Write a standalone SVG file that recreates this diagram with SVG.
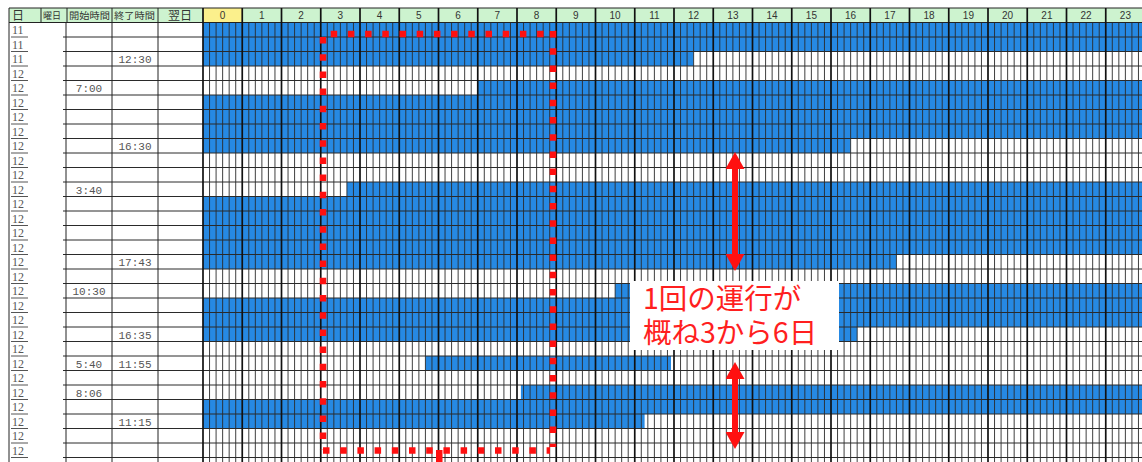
<svg xmlns="http://www.w3.org/2000/svg" xmlns:xlink="http://www.w3.org/1999/xlink" width="1142" height="462" viewBox="0 0 1142 462">
<style>
.hd{font-family:"Noto Sans CJK JP","Noto Sans",sans-serif;fill:#333}
.hr{font-family:"Liberation Sans",Arial,sans-serif;font-size:10px;fill:#333;text-anchor:middle}
.dn{font-family:"Liberation Serif",serif;font-size:12px;fill:#555}
.tm{font-family:"Liberation Mono",monospace;font-size:11px;fill:#555;text-anchor:middle}
.bar{fill:#2689e3}
.dot{fill:none;stroke:#ff1010;stroke-width:6.5;stroke-dasharray:6.5 10.7}
.note{font-family:"Noto Sans CJK JP","Noto Sans",sans-serif;font-size:28.5px;fill:#ff1f1f}
</style>
<defs>
<marker id="ah" viewBox="0 0 17 19" refX="2" refY="9.5" markerWidth="17" markerHeight="19" markerUnits="userSpaceOnUse" orient="auto-start-reverse">
<path d="M0,0 L17,9.5 L0,19 Z" fill="#ff1010"/>
</marker>
<path id="h6" fill="none" stroke="#2a2a2a" stroke-width="0.9" d="M6.5417,22.5v440M13.0833,22.5v440M19.625,22.5v440M26.1667,22.5v440M32.7083,22.5v440"/>
</defs>
<rect width="1142" height="462" fill="#fff"/>
<g id="header">
<rect x="9" y="8" width="1133" height="14.5" fill="#cdf3cf"/>
<rect x="203" y="8" width="39.25" height="14.5" fill="#fbf08c"/>
<text class="hd" x="12" y="19.5" font-size="12">日</text>
<text class="hd" x="43" y="19" font-size="9">曜日</text>
<text class="hd" x="69" y="19" font-size="9" textLength="41" lengthAdjust="spacingAndGlyphs">開始時間</text>
<text class="hd" x="114" y="19" font-size="9" textLength="41" lengthAdjust="spacingAndGlyphs">終了時間</text>
<text class="hd" x="180" y="19.5" font-size="12" text-anchor="middle">翌日</text>
<text class="hr" x="222.6" y="19">0</text>
<text class="hr" x="261.9" y="19">1</text>
<text class="hr" x="301.1" y="19">2</text>
<text class="hr" x="340.4" y="19">3</text>
<text class="hr" x="379.6" y="19">4</text>
<text class="hr" x="418.9" y="19">5</text>
<text class="hr" x="458.1" y="19">6</text>
<text class="hr" x="497.4" y="19">7</text>
<text class="hr" x="536.6" y="19">8</text>
<text class="hr" x="575.9" y="19">9</text>
<text class="hr" x="615.1" y="19">10</text>
<text class="hr" x="654.4" y="19">11</text>
<text class="hr" x="693.6" y="19">12</text>
<text class="hr" x="732.9" y="19">13</text>
<text class="hr" x="772.1" y="19">14</text>
<text class="hr" x="811.4" y="19">15</text>
<text class="hr" x="850.6" y="19">16</text>
<text class="hr" x="889.9" y="19">17</text>
<text class="hr" x="929.1" y="19">18</text>
<text class="hr" x="968.4" y="19">19</text>
<text class="hr" x="1007.6" y="19">20</text>
<text class="hr" x="1046.9" y="19">21</text>
<text class="hr" x="1086.1" y="19">22</text>
<text class="hr" x="1125.4" y="19">23</text>
</g>
<g id="bars">
<rect class="bar" x="203" y="22.5" width="939" height="29"/>
<rect class="bar" x="203" y="51.5" width="490.6" height="14.5"/>
<rect class="bar" x="477.75" y="80.5" width="664.25" height="14.5"/>
<rect class="bar" x="203" y="95" width="939" height="43.5"/>
<rect class="bar" x="203" y="138.5" width="647.6" height="14.5"/>
<rect class="bar" x="346.9" y="182" width="795.1" height="14.5"/>
<rect class="bar" x="203" y="196.5" width="939" height="58"/>
<rect class="bar" x="203" y="254.5" width="693.4" height="14.5"/>
<rect class="bar" x="615.1" y="283.5" width="526.9" height="14.5"/>
<rect class="bar" x="203" y="298" width="939" height="29"/>
<rect class="bar" x="203" y="327" width="654.2" height="14.5"/>
<rect class="bar" x="425.4" y="356" width="245.6" height="14.5"/>
<rect class="bar" x="520.9" y="385" width="621.1" height="14.5"/>
<rect class="bar" x="203" y="399.5" width="939" height="14.5"/>
<rect class="bar" x="203" y="414" width="441.6" height="14.5"/>
</g>
<g id="grid" fill="none">
<use xlink:href="#h6" href="#h6" x="203"/>
<use xlink:href="#h6" href="#h6" x="242.25"/>
<use xlink:href="#h6" href="#h6" x="281.5"/>
<use xlink:href="#h6" href="#h6" x="320.75"/>
<use xlink:href="#h6" href="#h6" x="360"/>
<use xlink:href="#h6" href="#h6" x="399.25"/>
<use xlink:href="#h6" href="#h6" x="438.5"/>
<use xlink:href="#h6" href="#h6" x="477.75"/>
<use xlink:href="#h6" href="#h6" x="517"/>
<use xlink:href="#h6" href="#h6" x="556.25"/>
<use xlink:href="#h6" href="#h6" x="595.5"/>
<use xlink:href="#h6" href="#h6" x="634.75"/>
<use xlink:href="#h6" href="#h6" x="674"/>
<use xlink:href="#h6" href="#h6" x="713.25"/>
<use xlink:href="#h6" href="#h6" x="752.5"/>
<use xlink:href="#h6" href="#h6" x="791.75"/>
<use xlink:href="#h6" href="#h6" x="831"/>
<use xlink:href="#h6" href="#h6" x="870.25"/>
<use xlink:href="#h6" href="#h6" x="909.5"/>
<use xlink:href="#h6" href="#h6" x="948.75"/>
<use xlink:href="#h6" href="#h6" x="988"/>
<use xlink:href="#h6" href="#h6" x="1027.25"/>
<use xlink:href="#h6" href="#h6" x="1066.5"/>
<use xlink:href="#h6" href="#h6" x="1105.75"/>
<path stroke="#2a2a2a" stroke-width="1" d="M63,37h1079m-1079,14.5h1079m-1079,14.5h1079m-1079,14.5h1079m-1079,14.5h1079m-1079,14.5h1079m-1079,14.5h1079m-1079,14.5h1079m-1079,14.5h1079m-1079,14.5h1079m-1079,14.5h1079m-1079,14.5h1079m-1079,14.5h1079m-1079,14.5h1079m-1079,14.5h1079m-1079,14.5h1079m-1079,14.5h1079m-1079,14.5h1079m-1079,14.5h1079m-1079,14.5h1079m-1079,14.5h1079m-1079,14.5h1079m-1079,14.5h1079m-1079,14.5h1079m-1079,14.5h1079m-1079,14.5h1079m-1079,14.5h1079m-1079,14.5h1079m-1079,14.5h1079m-1079,14.5h1079"/>
<path stroke="#555" stroke-width="1" d="M11,37h17m-17,14.5h17m-17,14.5h17m-17,14.5h17m-17,14.5h17m-17,14.5h17m-17,14.5h17m-17,14.5h17m-17,14.5h17m-17,14.5h17m-17,14.5h17m-17,14.5h17m-17,14.5h17m-17,14.5h17m-17,14.5h17m-17,14.5h17m-17,14.5h17m-17,14.5h17m-17,14.5h17m-17,14.5h17m-17,14.5h17m-17,14.5h17m-17,14.5h17m-17,14.5h17m-17,14.5h17m-17,14.5h17m-17,14.5h17m-17,14.5h17m-17,14.5h17m-17,14.5h17"/>
<path stroke="#222" stroke-width="1" d="M9,8H1142M9,22.5H1142M9,8V462M41,8v14.5M67,8v14.5M66,22.5V462M112,8V462M158,8V462"/>
<path stroke="#111" stroke-width="1.7" d="M203,8v454m39.25,-454v454m39.25,-454v454m39.25,-454v454m39.25,-454v454m39.25,-454v454m39.25,-454v454m39.25,-454v454m39.25,-454v454m39.25,-454v454m39.25,-454v454m39.25,-454v454m39.25,-454v454m39.25,-454v454m39.25,-454v454m39.25,-454v454m39.25,-454v454m39.25,-454v454m39.25,-454v454m39.25,-454v454m39.25,-454v454m39.25,-454v454m39.25,-454v454m39.25,-454v454"/>
</g>
<g id="rowlabels">
<text class="dn" x="12" y="34">11</text>
<text class="dn" x="12" y="48.5">11</text>
<text class="dn" x="12" y="63">11</text>
<text class="dn" x="12" y="77.5">12</text>
<text class="dn" x="12" y="92">12</text>
<text class="dn" x="12" y="106.5">12</text>
<text class="dn" x="12" y="121">12</text>
<text class="dn" x="12" y="135.5">12</text>
<text class="dn" x="12" y="150">12</text>
<text class="dn" x="12" y="164.5">12</text>
<text class="dn" x="12" y="179">12</text>
<text class="dn" x="12" y="193.5">12</text>
<text class="dn" x="12" y="208">12</text>
<text class="dn" x="12" y="222.5">12</text>
<text class="dn" x="12" y="237">12</text>
<text class="dn" x="12" y="251.5">12</text>
<text class="dn" x="12" y="266">12</text>
<text class="dn" x="12" y="280.5">12</text>
<text class="dn" x="12" y="295">12</text>
<text class="dn" x="12" y="309.5">12</text>
<text class="dn" x="12" y="324">12</text>
<text class="dn" x="12" y="338.5">12</text>
<text class="dn" x="12" y="353">12</text>
<text class="dn" x="12" y="367.5">12</text>
<text class="dn" x="12" y="382">12</text>
<text class="dn" x="12" y="396.5">12</text>
<text class="dn" x="12" y="411">12</text>
<text class="dn" x="12" y="425.5">12</text>
<text class="dn" x="12" y="440">12</text>
<text class="dn" x="12" y="454.5">12</text>
</g>
<g id="times">
<text class="tm" x="135" y="63">12:30</text>
<text class="tm" x="89" y="92">7:00</text>
<text class="tm" x="135" y="150">16:30</text>
<text class="tm" x="89" y="193.5">3:40</text>
<text class="tm" x="135" y="266">17:43</text>
<text class="tm" x="89" y="295">10:30</text>
<text class="tm" x="135" y="338.5">16:35</text>
<text class="tm" x="89" y="367.5">5:40</text>
<text class="tm" x="135" y="367.5">11:55</text>
<text class="tm" x="89" y="396.5">8:06</text>
<text class="tm" x="135" y="425.5">11:15</text>
</g>
<g id="highlight">
<path class="dot" d="M323,37V450"/>
<path class="dot" d="M330.7,34H556"/>
<path class="dot" d="M553,31V447"/>
<path class="dot" d="M323,450.5H550"/>
<rect x="436" y="450" width="6.5" height="12" fill="#ff1010"/>
</g>
<g id="connectors" stroke="#ff1010" stroke-width="6">
<line x1="735" y1="167" x2="735" y2="256" marker-start="url(#ah)" marker-end="url(#ah)"/>
<line x1="735" y1="377" x2="735" y2="434" marker-start="url(#ah)" marker-end="url(#ah)"/>
</g>
<g id="note">
<rect x="630" y="281" width="209" height="69" fill="#fff"/>
<text class="note" x="643" y="309">1回の運行が</text>
<text class="note" x="643" y="343">概ね3から6日</text>
</g>
</svg>
